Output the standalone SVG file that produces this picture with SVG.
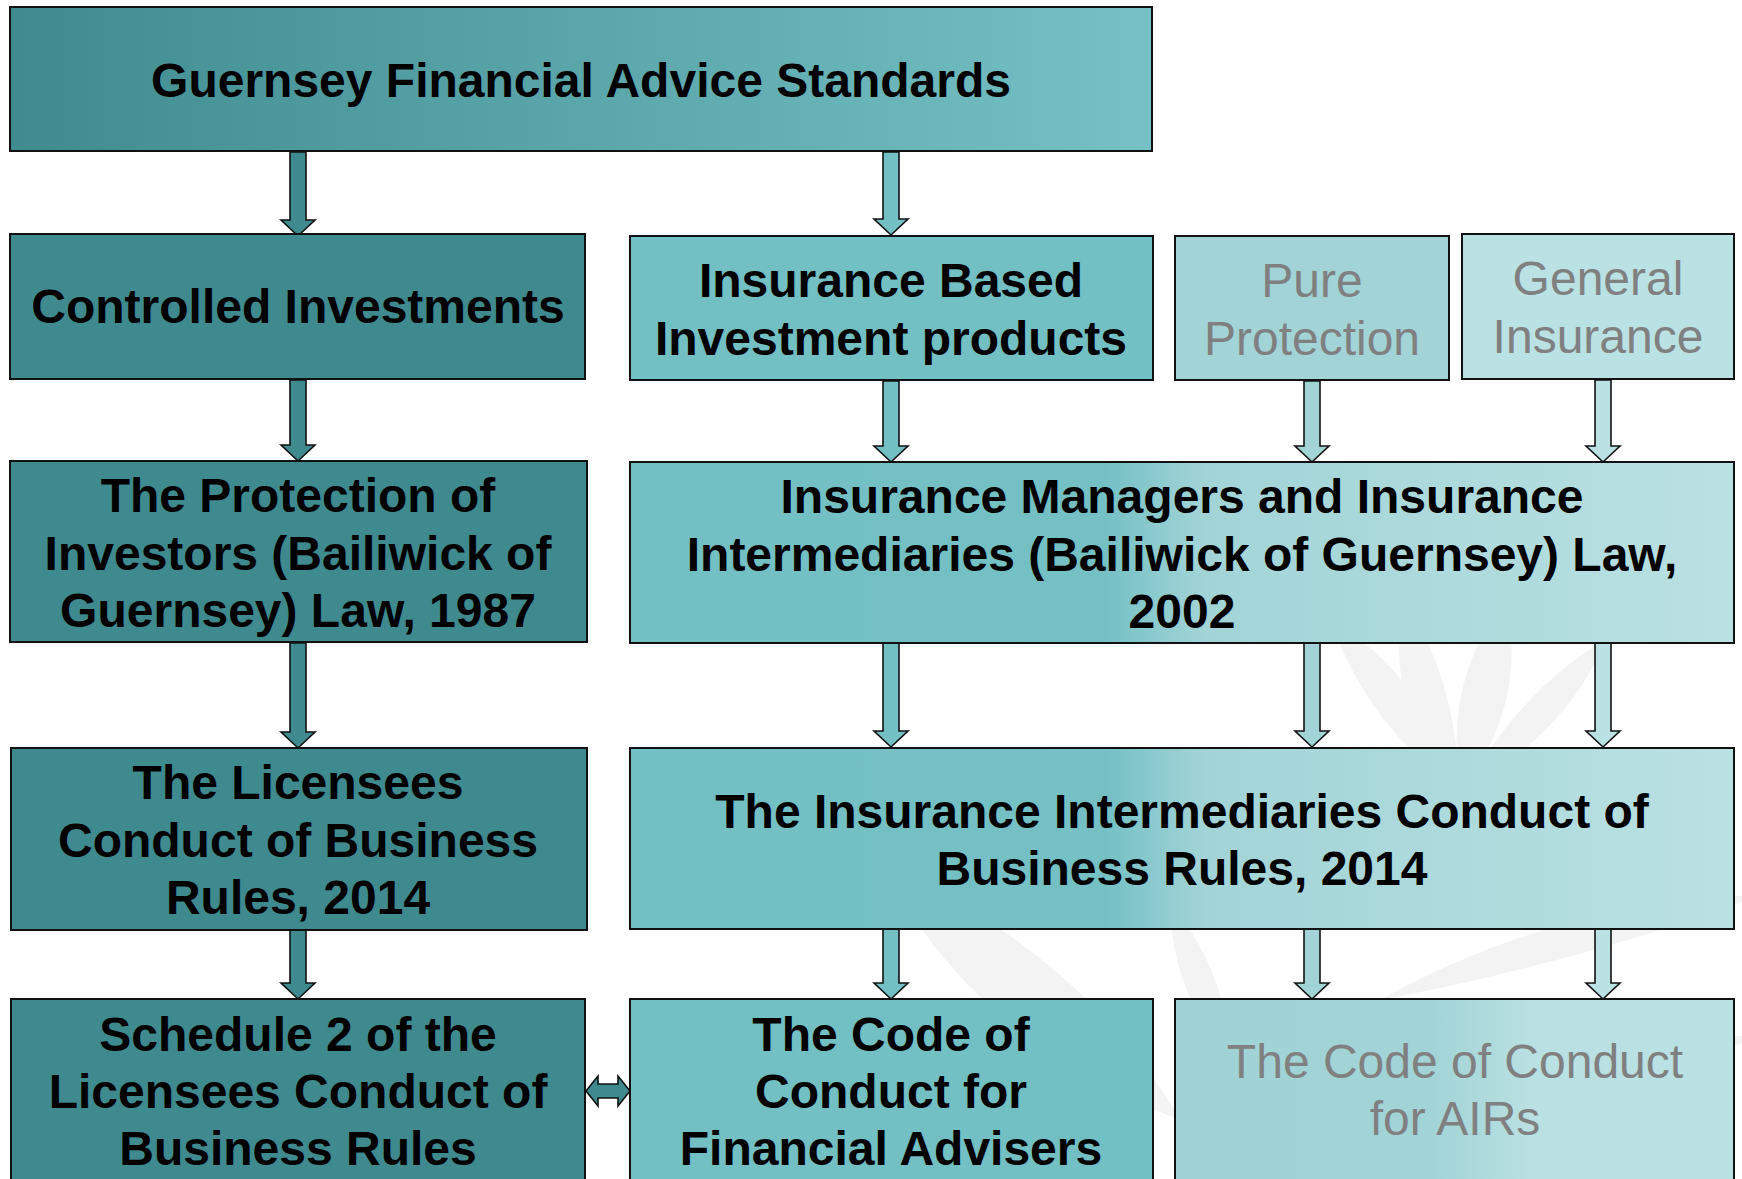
<svg xmlns="http://www.w3.org/2000/svg" width="1742" height="1179" viewBox="0 0 1742 1179">
  <defs>
    <linearGradient id="gTop" x1="0" y1="0" x2="1" y2="0">
      <stop offset="0" stop-color="#408b90"/>
      <stop offset="1" stop-color="#75c1c6"/>
    </linearGradient>
    <linearGradient id="gWide" x1="0" y1="0" x2="1" y2="0">
      <stop offset="0" stop-color="#72bfc4"/>
      <stop offset="0.43" stop-color="#74c0c5"/>
      <stop offset="0.52" stop-color="#a2d4d7"/>
      <stop offset="1" stop-color="#bae1e3"/>
    </linearGradient>
    <linearGradient id="gAir" x1="0" y1="0" x2="1" y2="0">
      <stop offset="0" stop-color="#a0d3d6"/>
      <stop offset="0.46" stop-color="#a2d4d7"/>
      <stop offset="0.64" stop-color="#b9e0e2"/>
      <stop offset="1" stop-color="#bae1e3"/>
    </linearGradient>
    <style>
      .box { stroke: #111; stroke-width: 2; }
      .dark { fill: #3e8a8f; }
      .mid { fill: #72bfc4; }
      .pure { fill: #a2d4d7; }
      .gen { fill: #bae1e3; }
      .arrow { stroke: #111; stroke-width: 1.6; stroke-linejoin: miter; }
      .t { font-family: "Liberation Sans", Arial, sans-serif; font-size: 48px; text-anchor: middle; }
      .b { font-weight: bold; fill: #000; }
      .g { font-weight: normal; fill: #808080; }
      .leaf { fill: #f3f3f3; }
    </style>
  </defs>

  <rect x="0" y="0" width="1742" height="1179" fill="#ffffff"/>

  <!-- faint plant emblem in the background -->
  <g id="watermark">
    <path class="leaf" d="M1460,790 Q1370,730 1330,620 Q1420,670 1460,790 Z"/>
    <path class="leaf" d="M1458,790 Q1380,700 1405,600 Q1460,690 1458,790 Z"/>
    <path class="leaf" d="M1462,790 Q1440,690 1505,598 Q1530,700 1462,790 Z"/>
    <path class="leaf" d="M1465,790 Q1520,690 1605,640 Q1570,730 1465,790 Z"/>
    <path class="leaf" d="M1180,1120 Q970,1040 880,860 Q1090,960 1180,1120 Z"/>
    <path class="leaf" d="M1230,1060 Q1170,990 1170,900 Q1230,980 1230,1060 Z"/>
    <path class="leaf" d="M1380,1000 Q1560,900 1760,895 Q1590,960 1380,1000 Z"/>
    <path class="leaf" d="M1500,1120 Q1620,1040 1760,1035 Q1640,1090 1500,1120 Z"/>
  </g>

  <!-- connectors -->
  <g id="connectors">
    <path class="arrow dark" d="M290,152 L306,152 L306,220 L315,220 L298,236 L281,220 L290,220 Z"/>
    <path class="arrow mid" d="M883,152 L899,152 L899,219 L908,219 L891,235 L874,219 L883,219 Z"/>

    <path class="arrow dark" d="M290,380 L306,380 L306,445 L315,445 L298,461 L281,445 L290,445 Z"/>
    <path class="arrow mid" d="M883,381 L899,381 L899,446 L908,446 L891,462 L874,446 L883,446 Z"/>
    <path class="arrow pure" d="M1304,381 L1320,381 L1320,446 L1329,446 L1312,462 L1295,446 L1304,446 Z"/>
    <path class="arrow gen" d="M1595,380 L1611,380 L1611,446 L1620,446 L1603,462 L1586,446 L1595,446 Z"/>

    <path class="arrow dark" d="M290,643 L306,643 L306,732 L315,732 L298,748 L281,732 L290,732 Z"/>
    <path class="arrow mid" d="M883,643 L899,643 L899,731 L908,731 L891,747 L874,731 L883,731 Z"/>
    <path class="arrow pure" d="M1304,643 L1320,643 L1320,731 L1329,731 L1312,747 L1295,731 L1304,731 Z"/>
    <path class="arrow gen" d="M1595,643 L1611,643 L1611,731 L1620,731 L1603,747 L1586,731 L1595,731 Z"/>

    <path class="arrow dark" d="M290,930 L306,930 L306,983 L315,983 L298,999 L281,983 L290,983 Z"/>
    <path class="arrow mid" d="M883,929 L899,929 L899,983 L908,983 L891,999 L874,983 L883,983 Z"/>
    <path class="arrow pure" d="M1304,929 L1320,929 L1320,983 L1329,983 L1312,999 L1295,983 L1304,983 Z"/>
    <path class="arrow gen" d="M1595,929 L1611,929 L1611,983 L1620,983 L1603,999 L1586,983 L1595,983 Z"/>

    <!-- two-way link between the bottom codes -->
    <path class="arrow dark" d="M586,1091 L598,1076 L598,1084 L618,1084 L618,1076 L630,1091 L618,1106 L618,1098 L598,1098 L598,1106 Z"/>
  </g>

  <!-- nodes -->
  <g id="node-standards">
    <rect class="box" x="10" y="7" width="1142" height="144" fill="url(#gTop)"/>
    <text class="t b" x="581" y="97">Guernsey Financial Advice Standards</text>
  </g>

  <g id="node-controlled">
    <rect class="box dark" x="10" y="234" width="575" height="145"/>
    <text class="t b" x="298" y="323">Controlled Investments</text>
  </g>

  <g id="node-ibip">
    <rect class="box mid" x="630" y="236" width="523" height="144"/>
    <text class="t b" x="891" y="297">Insurance Based</text>
    <text class="t b" x="891" y="355">Investment products</text>
  </g>

  <g id="node-pure">
    <rect class="box pure" x="1175" y="236" width="274" height="144"/>
    <text class="t g" x="1312" y="297">Pure</text>
    <text class="t g" x="1312" y="355">Protection</text>
  </g>

  <g id="node-general">
    <rect class="box gen" x="1462" y="234" width="272" height="145"/>
    <text class="t g" x="1598" y="295">General</text>
    <text class="t g" x="1598" y="353">Insurance</text>
  </g>

  <g id="node-pil">
    <rect class="box dark" x="10" y="461" width="577" height="181"/>
    <text class="t b" x="298" y="512">The Protection of</text>
    <text class="t b" x="298" y="570">Investors (Bailiwick of</text>
    <text class="t b" x="298" y="627">Guernsey) Law, 1987</text>
  </g>

  <g id="node-imii">
    <rect class="box" x="630" y="462" width="1104" height="181" fill="url(#gWide)"/>
    <text class="t b" x="1182" y="513">Insurance Managers and Insurance</text>
    <text class="t b" x="1182" y="571">Intermediaries (Bailiwick of Guernsey) Law,</text>
    <text class="t b" x="1182" y="628">2002</text>
  </g>

  <g id="node-lcbr">
    <rect class="box dark" x="11" y="748" width="576" height="182"/>
    <text class="t b" x="298" y="799">The Licensees</text>
    <text class="t b" x="298" y="857">Conduct of Business</text>
    <text class="t b" x="298" y="914">Rules, 2014</text>
  </g>

  <g id="node-iicbr">
    <rect class="box" x="630" y="748" width="1104" height="181" fill="url(#gWide)"/>
    <text class="t b" x="1182" y="828">The Insurance Intermediaries Conduct of</text>
    <text class="t b" x="1182" y="885">Business Rules, 2014</text>
  </g>

  <g id="node-schedule2">
    <rect class="box dark" x="11" y="999" width="574" height="192"/>
    <text class="t b" x="298" y="1051">Schedule 2 of the</text>
    <text class="t b" x="298" y="1108">Licensees Conduct of</text>
    <text class="t b" x="298" y="1165">Business Rules</text>
  </g>

  <g id="node-codefa">
    <rect class="box mid" x="630" y="999" width="523" height="192"/>
    <text class="t b" x="891" y="1051">The Code of</text>
    <text class="t b" x="891" y="1108">Conduct for</text>
    <text class="t b" x="891" y="1165">Financial Advisers</text>
  </g>

  <g id="node-codeair">
    <rect class="box" x="1175" y="999" width="559" height="192" fill="url(#gAir)"/>
    <text class="t g" x="1455" y="1078">The Code of Conduct</text>
    <text class="t g" x="1455" y="1135">for AIRs</text>
  </g>
</svg>
